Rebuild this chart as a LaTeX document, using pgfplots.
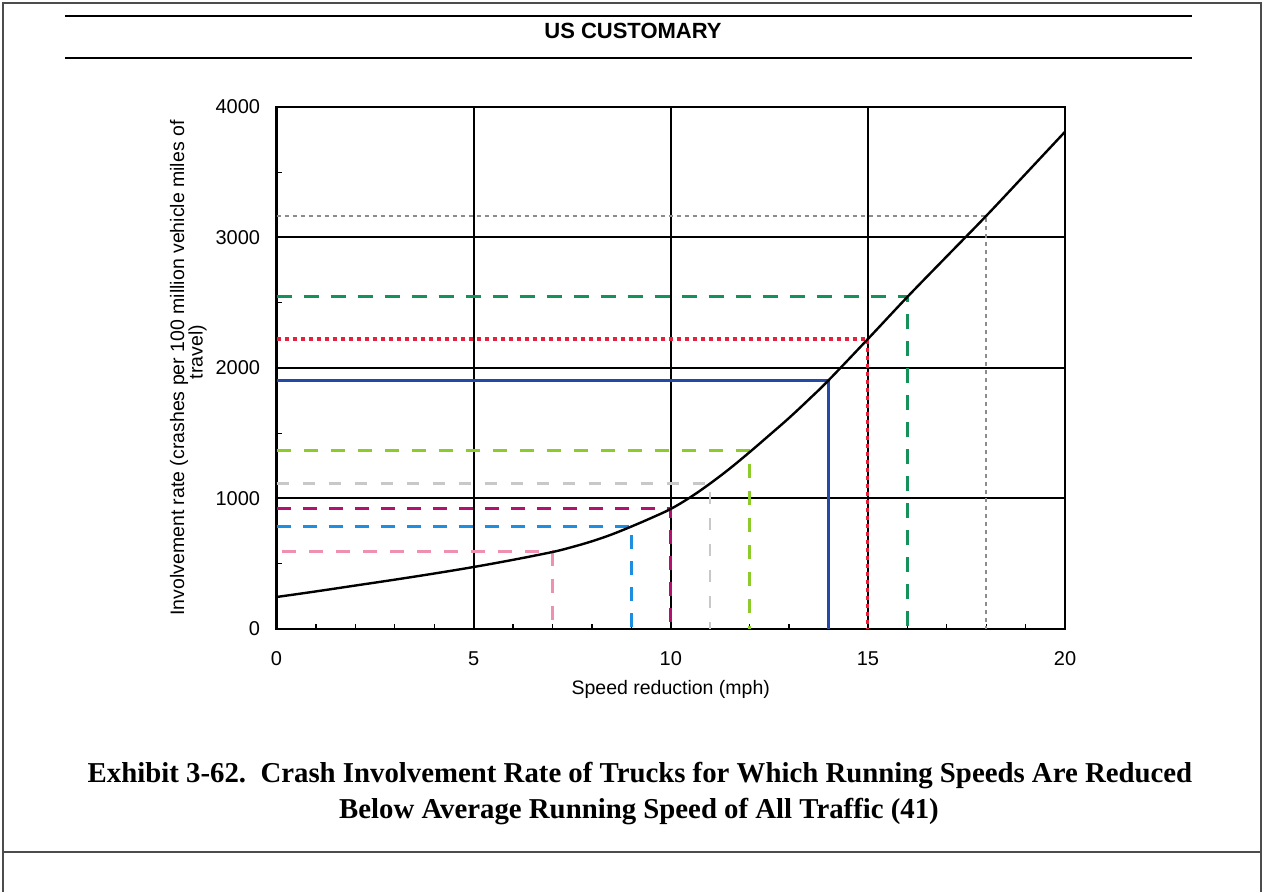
\documentclass[border=0pt]{standalone}
\usepackage{fontspec}
\setmainfont{Liberation Serif}
\newfontfamily\arial{Liberation Sans}
\usepackage{pgfplots}
\pgfplotsset{compat=1.18}
\definecolor{cgrayd}{HTML}{8C8C8C}
\definecolor{cgreen}{HTML}{15925A}
\definecolor{cred}{HTML}{E8203C}
\definecolor{cblue}{HTML}{2348A8}
\definecolor{clime}{HTML}{8CCB2A}
\definecolor{clgray}{HTML}{C8C8C8}
\definecolor{cmag}{HTML}{B0126E}
\definecolor{clblue}{HTML}{1E8FE0}
\definecolor{cpink}{HTML}{F090B0}
\begin{document}
\begin{tikzpicture}
\path (0,0) rectangle (632pt,446pt);
\draw[gray!60!black, line width=0.6pt] (1.5pt,0pt) -- (1.5pt,444.5pt) -- (630.5pt,444.5pt) -- (630.5pt,0pt);
\draw[gray!60!black, line width=0.6pt] (1.5pt,20pt) -- (630.5pt,20pt);
\draw[line width=1pt] (32.5pt,438pt) -- (596pt,438pt);
\draw[line width=1pt] (32.5pt,417pt) -- (596pt,417pt);
\node[anchor=base, inner sep=0pt, font=\arial\bfseries\fontsize{11}{12}\selectfont] at (316.5pt,426.5pt) {US CUSTOMARY};
\node[anchor=base, inner sep=0pt, font=\bfseries\fontsize{14.4}{16}\selectfont] at (320pt,54.5pt) {Exhibit 3-62.\ \ Crash Involvement Rate of Trucks for Which Running Speeds Are Reduced};
\node[anchor=base, inner sep=0pt, font=\bfseries\fontsize{14.4}{16}\selectfont] at (319.5pt,36.5pt) {Below Average Running Speed of All Traffic (41)};
\node[rotate=90, anchor=center, inner sep=0pt, font=\arial\fontsize{9.75}{11}\selectfont] at (98.75pt,270pt) {travel)};
\begin{axis}[
  at={(138.25pt,131.5pt)}, anchor=south west,
  scale only axis, width=394.25pt, height=261pt,
  xmin=0, xmax=20, ymin=0, ymax=4000,
  xtick={0,5,10,15,20}, ytick={0,1000,2000,3000,4000},
  minor x tick num=4, minor y tick num=1,
  scaled y ticks=false,
  grid=major,
  major grid style={black, line width=1pt},
  axis line style={line width=1.1pt},
  tick pos=left, tick align=inside,
  major tick length=0pt, minor tick length=2.5pt,
  minor tick style={black, line width=0.6pt},
  tick label style={font=\arial\fontsize{10}{12}\selectfont, inner sep=0pt},
  /pgf/number format/assume math mode=true,
  /pgf/number format/1000 sep={},
  xticklabel style={anchor=base, yshift=-18.5pt},
  yticklabel style={anchor=east, xshift=-8pt},
  xlabel={Speed reduction (mph)},
  xlabel style={font=\arial\fontsize{9.75}{11}\selectfont, at={(axis description cs:0.5,0)}, anchor=base, yshift=-33pt, inner sep=0pt},
  ylabel={Involvement rate (crashes per 100 million vehicle miles of},
  ylabel style={font=\arial\fontsize{9.75}{11}\selectfont, at={(axis description cs:0,0.5)}, anchor=center, yshift=48.75pt, inner sep=0pt},
]
\addplot[cpink, line width=1.5pt, dash pattern=on 7pt off 6.5pt] coordinates {(0.15,590) (7,590) (7,0)};
\addplot[clblue, line width=1.5pt, dash pattern=on 7pt off 6pt] coordinates {(0,787) (9,787) (9,0)};
\addplot[cmag, line width=1.5pt, dash pattern=on 7pt off 6pt] coordinates {(0,925) (10,925) (10,0)};
\addplot[clgray, line width=1.3pt, dash pattern=on 6pt off 7pt] coordinates {(0,1115) (11,1115) (11,0)};
\addplot[clime, line width=1.5pt, dash pattern=on 7pt off 6.5pt] coordinates {(0,1366) (12,1366) (12,0)};
\addplot[cblue, line width=1.5pt] coordinates {(0,1905) (14,1905) (14,0)};
\addplot[cred, line width=1.6pt, dash pattern=on 2pt off 2pt] coordinates {(0,2222) (15,2222) (15,0)};
\addplot[cgreen, line width=1.5pt, dash pattern=on 7.5pt off 6pt] coordinates {(0,2544) (16,2544) (16,0)};
\addplot[cgrayd, line width=1.3pt, dash pattern=on 2pt off 2pt] coordinates {(0,3165) (18,3165) (18,0)};
\addplot[black, line width=1.2pt, smooth, tension=0.6] coordinates {
(0,245) (1,288) (2,333) (3,378) (4,425) (5,475) (6,530) (7,590) (7.5,628) (8,672) (8.5,724) (9,785) (9.5,850) (10,920) (10.5,1010) (11,1115) (11.5,1230) (12,1355) (12.5,1485) (13,1617) (13.5,1758) (14,1905) (15,2222) (16,2544) (17,2855) (18,3165) (19,3487) (20,3810)};
\end{axis}
\end{tikzpicture}
\end{document}
